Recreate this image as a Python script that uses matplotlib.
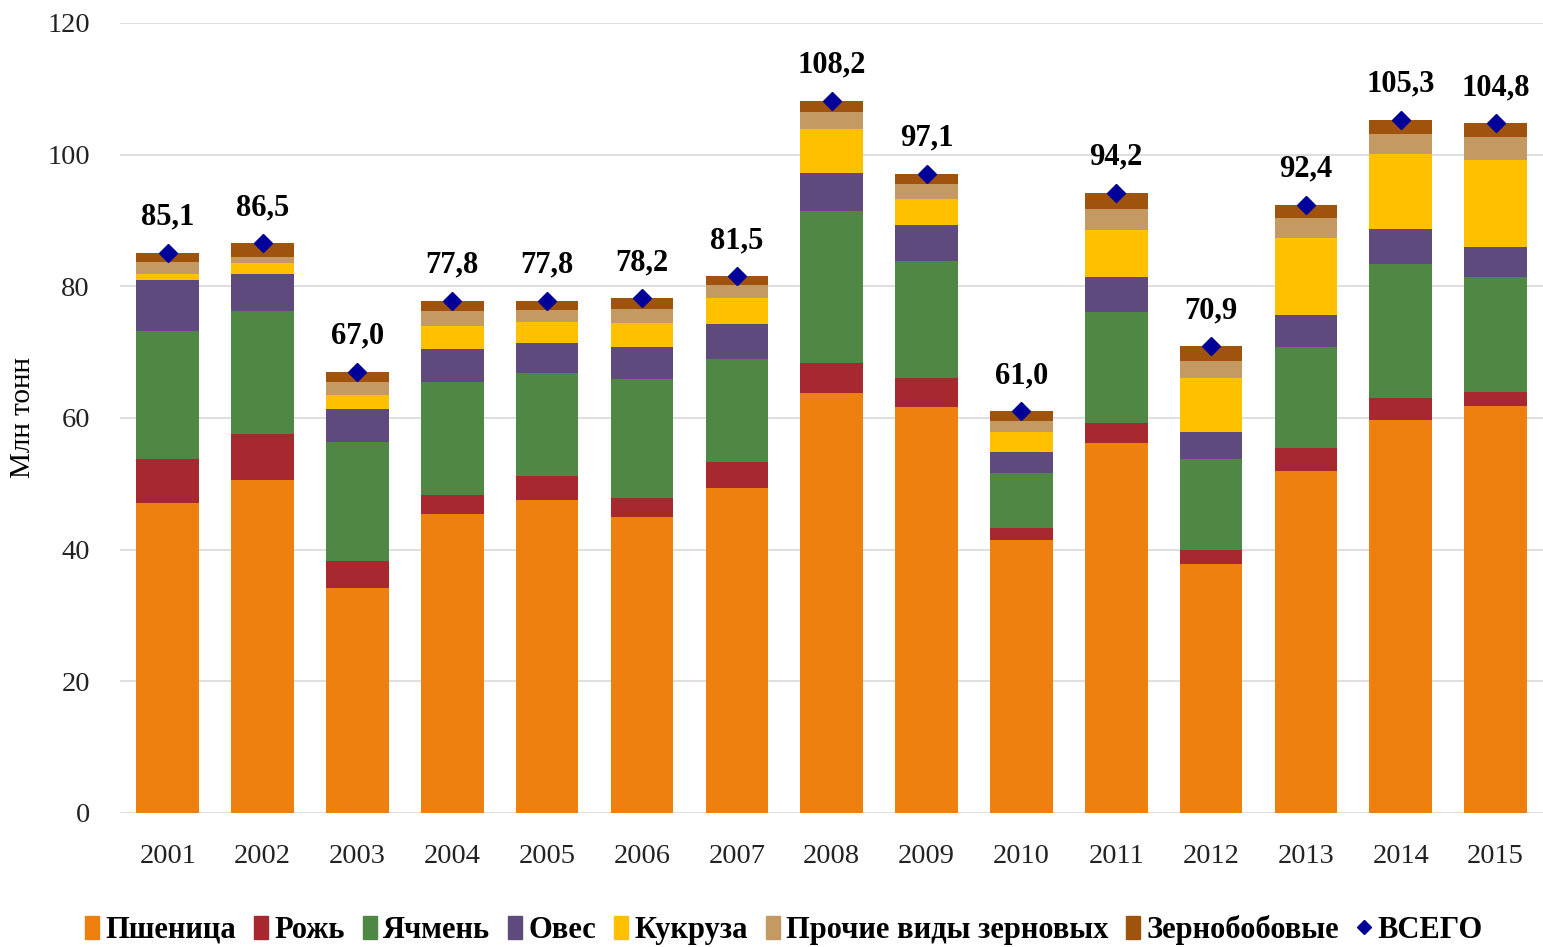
import numpy as np
import matplotlib
matplotlib.use("Agg")
from matplotlib import pyplot as plt
from matplotlib.lines import Line2D
from matplotlib.patches import Patch

years = ["2001", "2002", "2003", "2004", "2005", "2006", "2007", "2008",
         "2009", "2010", "2011", "2012", "2013", "2014", "2015"]

# million tonnes
wheat = [47.1, 50.6, 34.1, 45.4, 47.6, 45.0, 49.4, 63.8, 61.7, 41.5, 56.2, 37.8, 52.0, 59.7, 61.8]
rye = [6.6, 7.0, 4.2, 2.9, 3.6, 2.9, 3.9, 4.5, 4.3, 1.8, 3.0, 2.1, 3.4, 3.3, 2.1]
barley = [19.5, 18.7, 18.0, 17.2, 15.7, 18.0, 15.6, 23.1, 17.9, 8.3, 16.9, 13.9, 15.4, 20.4, 17.5]
oats = [7.8, 5.6, 5.1, 4.9, 4.5, 4.9, 5.4, 5.8, 5.4, 3.2, 5.3, 4.0, 4.9, 5.3, 4.6]
corn = [0.9, 1.6, 2.1, 3.5, 3.1, 3.6, 3.9, 6.7, 4.0, 3.1, 7.2, 8.2, 11.6, 11.4, 13.2]
other = [1.8, 1.0, 2.0, 2.4, 1.9, 2.1, 2.0, 2.6, 2.3, 1.6, 3.1, 2.7, 3.0, 3.1, 3.4]
pulses = [1.4, 2.0, 1.5, 1.5, 1.4, 1.7, 1.3, 1.7, 1.5, 1.5, 2.5, 2.2, 2.1, 2.1, 2.2]
total = [85.1, 86.5, 67.0, 77.8, 77.8, 78.2, 81.5, 108.2, 97.1, 61.0, 94.2, 70.9, 92.4, 105.3, 104.8]

names = ["Пшеница", "Рожь", "Ячмень", "Овес", "Кукруза", "Прочие виды зерновых", "Зернобобовые"]
colors = ["#EE800F", "#A8282F", "#4E8844", "#5F4A7D", "#FFC000", "#C49A62", "#A0530C"]
series = [wheat, rye, barley, oats, corn, other, pulses]

plt.rcParams['font.family'] = ['Liberation Serif', 'DejaVu Serif']

fig = plt.figure(figsize=(15.43, 9.47), dpi=100)
ax = fig.add_axes([0.078, 0.1415, 0.922, 0.8343])

x = np.arange(len(years))
bottom = np.zeros(len(years))
for vals, name, col in zip(series, names, colors):
    ax.bar(x, vals, 0.66, bottom=bottom, color=col, label=name, zorder=2)
    bottom += np.array(vals)

ax.plot(x, total, linestyle='none', marker='D', markersize=9,
        color='#000099', zorder=3, label='ВСЕГО')
for xi, t in zip(x, total):
    ax.text(xi, t + 3.2, f"{t:.1f}".replace('.', ','), ha='center', va='bottom',
            fontsize=22, fontweight='bold')

ax.set_xlim(-0.5, len(years) - 0.5)
ax.set_ylim(0, 120)
ax.set_yticks(np.arange(0, 121, 20))
ax.set_xticks(x)
ax.set_xticklabels(years)
ax.tick_params(axis='both', length=0, labelsize=20.5, colors='#222222')
ax.tick_params(axis='y', pad=22)
ax.tick_params(axis='x', pad=22)
ax.grid(axis='y', color='#d9d9d9', linewidth=1.2, zorder=0)
for s in ax.spines.values():
    s.set_visible(False)
ax.set_ylabel("Млн тонн", fontsize=21, labelpad=8)

handles = [Patch(color=c) for c in colors]
handles.append(Line2D([], [], linestyle='none', marker='D', markersize=7, color='#000099'))
leg = fig.legend(handles, names + ['ВСЕГО'], loc='center', bbox_to_anchor=(0.508, 0.018),
                 ncol=8, frameon=False, handlelength=0.45, handleheight=0.8,
                 handletextpad=0.2, columnspacing=0.6,
                 prop={'size': 22, 'weight': 'bold'})

fig.savefig("out.png", dpi=100)
